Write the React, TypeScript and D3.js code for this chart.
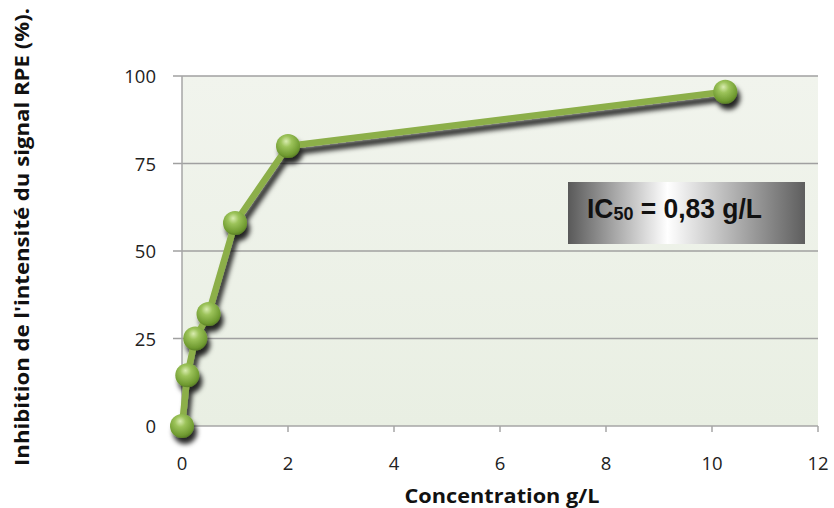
import { useEffect, useRef } from 'react';
import * as d3 from 'd3';

// données
const concentrations = [0, 0.1, 0.25, 0.5, 1, 2, 10.25];
const inhibition = [0, 14.5, 25, 32, 58, 80, 95.5];
const xTicks = [0, 2, 4, 6, 8, 10, 12];
const yTicks = [0, 25, 50, 75, 100];
const yTitle = "Inhibition de l'intensité du signal RPE (%).";
const xTitle = 'Concentration g/L';

const width = 834;
const height = 508;

const App = () => {
  const svgRef = useRef<SVGSVGElement>(null);

  useEffect(() => {
    const svg = d3.select(svgRef.current);
    svg.selectAll('*').remove();

    const x = d3.scaleLinear().domain([0, 12]).range([182, 818]);
    const y = d3.scaleLinear().domain([0, 100]).range([426, 76]);

    const defs = svg.append('defs');

    // fond de la zone de tracé
    const bg = defs.append('linearGradient').attr('id', 'bg').attr('x1', 0).attr('y1', 0).attr('x2', 0).attr('y2', 1);
    bg.append('stop').attr('offset', '0%').attr('stop-color', '#f1f4ed');
    bg.append('stop').attr('offset', '100%').attr('stop-color', '#e9efe3');

    // boule des marqueurs
    const ball = defs.append('radialGradient').attr('id', 'ball')
      .attr('cx', '45%').attr('cy', '35%').attr('r', '65%').attr('fx', '42%').attr('fy', '30%');
    ball.append('stop').attr('offset', '0%').attr('stop-color', '#d9ecb0');
    ball.append('stop').attr('offset', '35%').attr('stop-color', '#9cc35a');
    ball.append('stop').attr('offset', '85%').attr('stop-color', '#6f9a30');
    ball.append('stop').attr('offset', '100%').attr('stop-color', '#5a7f26');

    // encadré IC50
    const box = defs.append('linearGradient').attr('id', 'box').attr('x1', 0).attr('y1', 0).attr('x2', 1).attr('y2', 0);
    box.append('stop').attr('offset', '0%').attr('stop-color', '#595959');
    box.append('stop').attr('offset', '42%').attr('stop-color', '#ffffff');
    box.append('stop').attr('offset', '100%').attr('stop-color', '#5e5e5e');

    const shadow = defs.append('filter').attr('id', 'shadow')
      .attr('x', '-20%').attr('y', '-20%').attr('width', '140%').attr('height', '140%');
    shadow.append('feDropShadow').attr('dx', 3).attr('dy', 6).attr('stdDeviation', 2.5)
      .attr('flood-color', '#000').attr('flood-opacity', 0.85);

    svg.append('rect')
      .attr('x', x(0)).attr('y', y(100))
      .attr('width', x(12) - x(0)).attr('height', y(0) - y(100))
      .attr('fill', 'url(#bg)');

    // quadrillage horizontal
    svg.append('g').selectAll('line')
      .data(yTicks.filter(d => d > 0))
      .enter().append('line')
      .attr('x1', x(0) - 9).attr('x2', x(12))
      .attr('y1', d => y(d)).attr('y2', d => y(d))
      .attr('stroke', '#a0a0a0').attr('stroke-width', 1.5);

    // axes
    svg.append('line')
      .attr('x1', x(0)).attr('x2', x(0)).attr('y1', y(100)).attr('y2', y(0))
      .attr('stroke', '#a6a6a6').attr('stroke-width', 1.5);
    svg.append('line')
      .attr('x1', x(0) - 9).attr('x2', x(0)).attr('y1', y(0)).attr('y2', y(0))
      .attr('stroke', '#a6a6a6').attr('stroke-width', 1.5);
    svg.append('line')
      .attr('x1', x(0)).attr('x2', x(12)).attr('y1', y(0)).attr('y2', y(0))
      .attr('stroke', '#a6a6a6').attr('stroke-width', 1.5);
    svg.append('g').selectAll('line')
      .data(xTicks)
      .enter().append('line')
      .attr('x1', d => x(d)).attr('x2', d => x(d))
      .attr('y1', y(0)).attr('y2', y(0) + 6)
      .attr('stroke', '#a6a6a6').attr('stroke-width', 1.5);

    // étiquettes des graduations
    svg.append('g').selectAll('text')
      .data(yTicks)
      .enter().append('text')
      .attr('x', 156).attr('y', d => y(d) + 7)
      .attr('text-anchor', 'end')
      .attr('font-family', 'Open Sans, sans-serif').attr('font-size', 18.5).attr('fill', '#222')
      .text(d => d);
    svg.append('g').selectAll('text')
      .data(xTicks)
      .enter().append('text')
      .attr('x', d => x(d)).attr('y', 470)
      .attr('text-anchor', 'middle')
      .attr('font-family', 'Open Sans, sans-serif').attr('font-size', 18.5).attr('fill', '#222')
      .text(d => d);

    // titres des axes
    svg.append('text')
      .attr('transform', `translate(29, 237) rotate(-90)`)
      .attr('text-anchor', 'middle')
      .attr('font-family', 'Open Sans, sans-serif').attr('font-weight', 'bold').attr('font-size', 19)
      .attr('textLength', 458).attr('lengthAdjust', 'spacingAndGlyphs')
      .attr('fill', '#111')
      .text(yTitle);
    svg.append('text')
      .attr('x', 502).attr('y', 503)
      .attr('text-anchor', 'middle')
      .attr('font-family', 'Open Sans, sans-serif').attr('font-weight', 'bold').attr('font-size', 19)
      .attr('textLength', 195).attr('lengthAdjust', 'spacingAndGlyphs')
      .attr('fill', '#111')
      .text(xTitle);

    // série
    const pts = concentrations.map((c, i) => [c, inhibition[i]] as [number, number]);
    const line = d3.line<[number, number]>().x(d => x(d[0])).y(d => y(d[1]));

    const series = svg.append('g').attr('filter', 'url(#shadow)');
    series.append('path')
      .attr('d', line(pts))
      .attr('fill', 'none')
      .attr('stroke', '#8caf4a').attr('stroke-width', 6.5)
      .attr('stroke-linejoin', 'round');
    series.selectAll('circle')
      .data(pts)
      .enter().append('circle')
      .attr('cx', d => x(d[0])).attr('cy', d => y(d[1]))
      .attr('r', 12)
      .attr('fill', 'url(#ball)');

    // encadré IC50
    svg.append('rect')
      .attr('x', 568).attr('y', 182).attr('width', 237).attr('height', 62)
      .attr('fill', 'url(#box)');
    const t = svg.append('text')
      .attr('x', 587).attr('y', 218)
      .attr('font-family', 'Liberation Sans, Arial, sans-serif').attr('font-weight', 'bold')
      .attr('font-size', 28).attr('fill', '#111')
      .attr('textLength', 175).attr('lengthAdjust', 'spacingAndGlyphs');
    t.append('tspan').text('IC');
    t.append('tspan').attr('font-size', 19).attr('dy', 2).text('50');
    t.append('tspan').attr('dy', -2).text(' = 0,83 g/L');
  }, []);

  return (
    <svg ref={svgRef} width={width} height={height}
      style={{ position: 'absolute', left: 0, top: 0, background: '#fff' }} />
  );
};

export default App;
